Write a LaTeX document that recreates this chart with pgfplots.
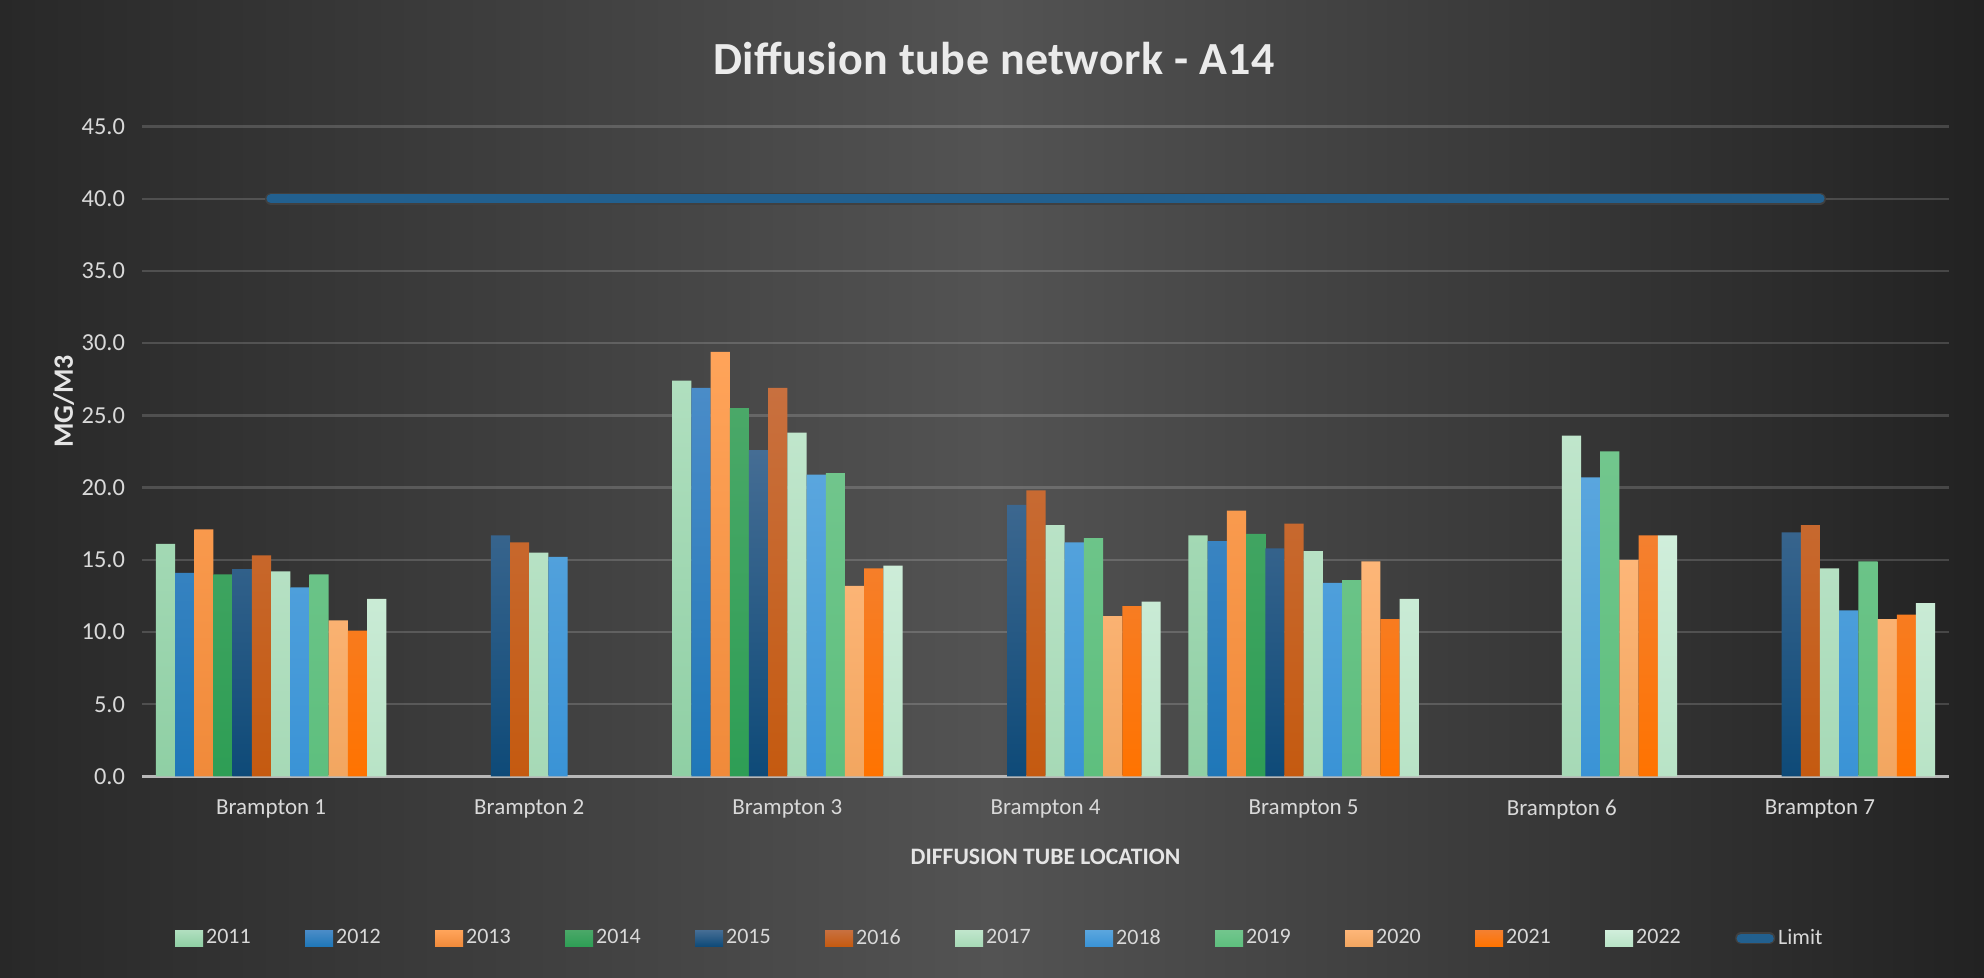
\documentclass[border=0pt]{standalone}
\usepackage{fontspec}
\setmainfont{Carlito}
\usepackage{pgfplots}
\pgfplotsset{compat=1.18}

% bar colours, top and bottom of each bar
\definecolor{a11}{HTML}{B0DFBF}\definecolor{b11}{HTML}{8FCFA4}
\definecolor{a12}{HTML}{4A8CC8}\definecolor{b12}{HTML}{1F77B8}
\definecolor{a13}{HTML}{FFA45A}\definecolor{b13}{HTML}{F08A3A}
\definecolor{a14}{HTML}{4AA868}\definecolor{b14}{HTML}{2E9E55}
\definecolor{a15}{HTML}{456D94}\definecolor{b15}{HTML}{0E4A78}
\definecolor{a16}{HTML}{C8703F}\definecolor{b16}{HTML}{C55A10}
\definecolor{a17}{HTML}{C0E6CC}\definecolor{b17}{HTML}{A6D9B6}
\definecolor{a18}{HTML}{5AA6DE}\definecolor{b18}{HTML}{3A93D6}
\definecolor{a19}{HTML}{72C68D}\definecolor{b19}{HTML}{5EBF7E}
\definecolor{a20}{HTML}{FDB678}\definecolor{b20}{HTML}{F2A660}
\definecolor{a21}{HTML}{F48030}\definecolor{b21}{HTML}{FF7300}
\definecolor{a22}{HTML}{D0EEDB}\definecolor{b22}{HTML}{B8E3C6}
\definecolor{limitblue}{HTML}{22608F}
\definecolor{bgdark}{HTML}{282828}
\definecolor{bglight}{HTML}{535353}
\definecolor{txt}{HTML}{D9D9D9}

\pgfplotsset{
  yrbar/.style 2 args={draw=none, top color=#1, bottom color=#2,
    legend image code/.code={\fill[##1] (0pt,-4pt) rectangle (14pt,4pt);}},
  limitline/.style={sharp plot, draw=limitblue, line width=4.6pt, line cap=round,
    preaction={draw=black!75, line width=6pt},
    legend image code/.code={\draw[limitblue, line width=4.6pt] (0pt,0pt) -- (14pt,0pt);}},
}

\begin{document}
\begin{tikzpicture}
% chart background
\shade[left color=bgdark, right color=bgdark!85!black, middle color=bglight]
  (-71pt,-100.5pt) rectangle (921pt,388.25pt);
\begin{axis}[
    at={(0,0)}, anchor=south west,
    scale only axis,
    width=903.5pt, height=325pt,
    ybar=0pt, bar width=9.6pt,
    xmin=0.5, xmax=7.5,
    ymin=0, ymax=45,
    enlargelimits=false,
    xtick={1,2,3,4,5,6,7},
    xticklabels={Brampton 1,Brampton 2,Brampton 3,Brampton 4,Brampton 5,Brampton 6,Brampton 7},
    ytick={0,5,10,15,20,25,30,35,40,45},
    /pgf/number format/assume math mode=true,
    yticklabel style={/pgf/number format/fixed, /pgf/number format/fixed zerofill,
      /pgf/number format/precision=1, xshift=-5pt, font=\fontsize{12.2}{14}\selectfont},
    ymajorgrids,
    grid style={white, opacity=0.16, line width=1.2pt},
    major tick length=0pt,
    axis x line*=bottom, axis y line*=left,
    y axis line style={draw=none},
    x axis line style={draw=white!72!black, line width=1.6pt},
    tick label style={text=txt},
    xticklabel style={yshift=-8pt, font=\fontsize{11.5}{13}\selectfont},
    title={Diffusion tube network - A14},
    title style={at={(0.4715,1)}, anchor=center, yshift=28pt, text=white!92!black,
      font=\bfseries\fontsize{23}{27}\selectfont\addfontfeatures{LetterSpace=1}},
    xlabel={DIFFUSION TUBE LOCATION},
    xlabel style={at={(axis description cs:0.5,-0.123)}, anchor=center, text=white!90!black,
      font=\bfseries\fontsize{11.8}{14}\selectfont},
    ylabel={MG/M3},
    ylabel style={at={(axis description cs:-0.0434,0.577)}, anchor=center, text=white!90!black,
      font=\bfseries\fontsize{14}{16}\selectfont},
    legend columns=13,
    legend style={at={(axis description cs:0.475,-0.249)}, anchor=center,
      draw=none, fill=none, text=txt, font=\fontsize{11}{13}\selectfont,
      nodes={inner xsep=1.5pt},
      /tikz/every even column/.append style={column sep=25.7pt},
      /tikz/every odd column/.append style={column sep=0pt}},
  ]
\addplot[yrbar={a11}{b11}] coordinates {(1,16.1) (3,27.4) (5,16.7)};
\addplot[yrbar={a12}{b12}] coordinates {(1,14.1) (3,26.9) (5,16.3)};
\addplot[yrbar={a13}{b13}] coordinates {(1,17.1) (3,29.4) (5,18.4)};
\addplot[yrbar={a14}{b14}] coordinates {(1,14.0) (3,25.5) (5,16.8)};
\addplot[yrbar={a15}{b15}] coordinates {(1,14.35) (2,16.7) (3,22.6) (4,18.8) (5,15.8) (7,16.9)};
\addplot[yrbar={a16}{b16}] coordinates {(1,15.3) (2,16.2) (3,26.9) (4,19.8) (5,17.5) (7,17.4)};
\addplot[yrbar={a17}{b17}] coordinates {(1,14.2) (2,15.5) (3,23.8) (4,17.4) (5,15.6) (6,23.6) (7,14.4)};
\addplot[yrbar={a18}{b18}] coordinates {(1,13.1) (2,15.2) (3,20.9) (4,16.2) (5,13.4) (6,20.7) (7,11.5)};
\addplot[yrbar={a19}{b19}] coordinates {(1,14.0) (3,21.0) (4,16.5) (5,13.6) (6,22.5) (7,14.9)};
\addplot[yrbar={a20}{b20}] coordinates {(1,10.8) (3,13.2) (4,11.1) (5,14.9) (6,15.0) (7,10.9)};
\addplot[yrbar={a21}{b21}] coordinates {(1,10.1) (3,14.4) (4,11.8) (5,10.9) (6,16.7) (7,11.2)};
\addplot[yrbar={a22}{b22}] coordinates {(1,12.3) (3,14.6) (4,12.1) (5,12.3) (6,16.7) (7,12.0)};
\addplot[limitline] coordinates {(1,40) (7,40)};
\legend{2011,2012,2013,2014,2015,2016,2017,2018,2019,2020,2021,2022,Limit}
\end{axis}
\end{tikzpicture}
\end{document}
